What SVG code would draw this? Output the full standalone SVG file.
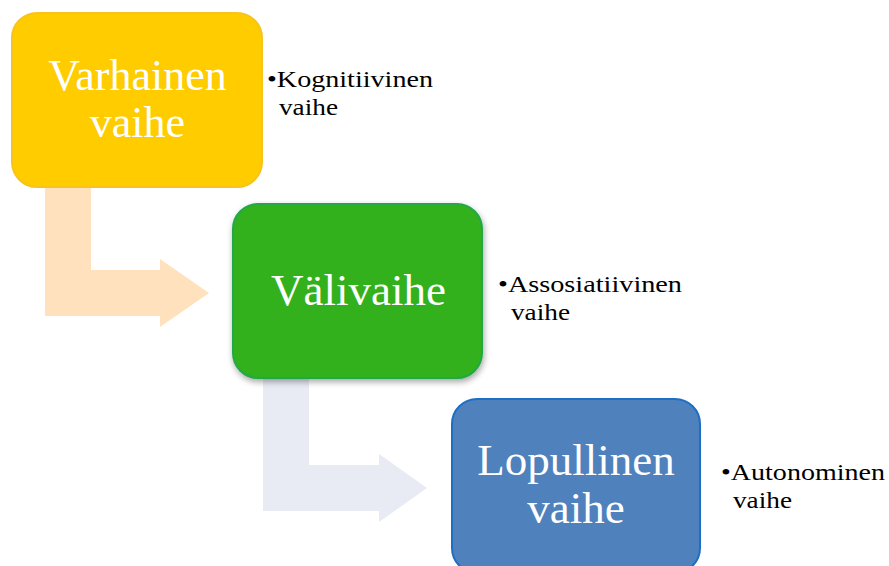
<svg xmlns="http://www.w3.org/2000/svg" width="889" height="566" viewBox="0 0 889 566">
<style>
.box-text{font-family:"Liberation Serif","Times New Roman",serif;font-size:44px;fill:#ffffff;text-anchor:middle}
.box-text.big{font-size:45px}
.note{font-family:"Liberation Serif","Times New Roman",serif;font-size:24px;fill:#000000}
</style>
<defs>
<filter id="shadow" x="-10%" y="-10%" width="125%" height="130%">
<feDropShadow dx="1" dy="3" stdDeviation="3" flood-color="#000" flood-opacity="0.35"/>
</filter>
</defs>
<rect width="889" height="566" fill="#ffffff"/>
<g id="connectors">
<path d="M45,187 H91 V270 H160 V259 L209,293 L160,327 V316 H45 Z" fill="#FFE1BE"/>
<path d="M263,378 H309 V465 H379 V454 L427,488 L379,522 V511 H263 Z" fill="#E8EAF4"/>
</g>
<g id="node-varhainen">
<rect x="12" y="13" width="250" height="174" rx="25" fill="#FFCC00" stroke="#F8C31A" stroke-width="2"/>
<text class="box-text" x="137.5" y="90">Varhainen</text>
<text class="box-text" x="137.5" y="137">vaihe</text>
</g>
<g id="note-kognitiivinen">
<text class="note" x="267" y="87" textLength="166" lengthAdjust="spacingAndGlyphs">•Kognitiivinen</text>
<text class="note" x="279" y="115" textLength="59" lengthAdjust="spacingAndGlyphs">vaihe</text>
</g>
<g id="node-valivaihe">
<rect x="233" y="204" width="249" height="174" rx="25" fill="#32B11E" stroke="#22A84A" stroke-width="2" filter="url(#shadow)"/>
<text class="box-text big" x="358.5" y="305">Välivaihe</text>
</g>
<g id="note-assosiatiivinen">
<text class="note" x="498" y="292" textLength="184" lengthAdjust="spacingAndGlyphs">•Assosiatiivinen</text>
<text class="note" x="511" y="320" textLength="59" lengthAdjust="spacingAndGlyphs">vaihe</text>
</g>
<g id="node-lopullinen">
<rect x="452" y="399" width="248" height="174" rx="25" fill="#4F81BD" stroke="#1E6FC4" stroke-width="2"/>
<text class="box-text big" x="576" y="475">Lopullinen</text>
<text class="box-text big" x="576" y="523">vaihe</text>
</g>
<g id="note-autonominen">
<text class="note" x="721" y="480" textLength="164" lengthAdjust="spacingAndGlyphs">•Autonominen</text>
<text class="note" x="733" y="508" textLength="59" lengthAdjust="spacingAndGlyphs">vaihe</text>
</g>
</svg>
